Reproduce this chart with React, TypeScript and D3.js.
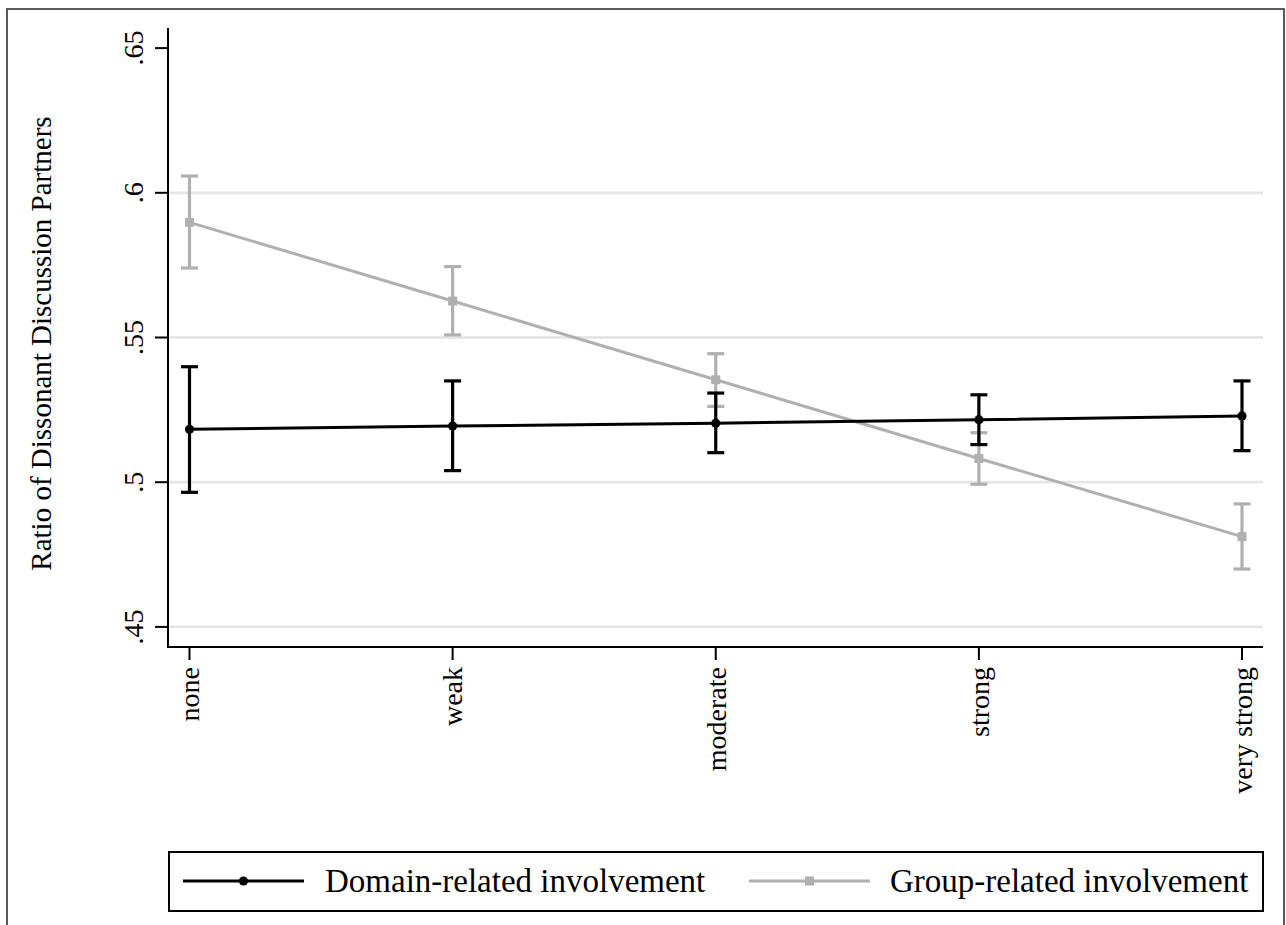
import React from "react";
import * as d3 from "d3";

const categories = ["none", "weak", "moderate", "strong", "very strong"];
const domainMean = [0.5183, 0.5194, 0.5204, 0.5216, 0.5229];
const domainLow = [0.4965, 0.504, 0.5102, 0.513, 0.5109];
const domainHigh = [0.5399, 0.535, 0.5308, 0.5302, 0.535];
const groupMean = [0.5898, 0.5626, 0.5354, 0.5082, 0.4812];
const groupLow = [0.574, 0.5509, 0.5262, 0.4993, 0.47];
const groupHigh = [0.6058, 0.5745, 0.5444, 0.5171, 0.4925];
const yTicks = [0.45, 0.5, 0.55, 0.6, 0.65];
const yTickLabels = [".45", ".5", ".55", ".6", ".65"];
const gridTicks = [0.45, 0.5, 0.55, 0.6];

const W = 1286;
const H = 925;
const FONT = '"Liberation Serif", "Times New Roman", serif';
const BLACK = "#000";
const GRAY = "#b0b0b0";

export default function App() {
  const plotLeft = 168;
  const plotRight = 1263;
  const plotTop = 28;
  const plotBottom = 647;

  const x = d3.scalePoint<string>().domain(categories).range([189.5, 1242]);
  const y = d3.scaleLinear().domain([0.45, 0.65]).range([626.9, 48.1]);

  const line = d3
    .line<number>()
    .x((_, i) => x(categories[i]) as number)
    .y((d) => y(d));

  const series = [
    { name: "Domain-related involvement", mean: domainMean, low: domainLow, high: domainHigh, color: BLACK, marker: "circle" },
    { name: "Group-related involvement", mean: groupMean, low: groupLow, high: groupHigh, color: GRAY, marker: "square" },
  ];

  const capHalf = 8.5;
  const ts = { fontFamily: FONT } as React.CSSProperties;

  return (
    <svg
      width={W}
      height={H}
      style={{ position: "absolute", left: 0, top: 0, background: "#fff", fontFamily: FONT }}
    >
      <rect x={0} y={0} width={W} height={H} fill="#fff" />
      <rect x={7} y={9} width={1277} height={940} fill="none" stroke="#333" strokeWidth={1.6} />

      {gridTicks.map((t) => (
        <line key={t} x1={plotLeft} x2={plotRight} y1={y(t)} y2={y(t)} stroke="#e6e6e6" strokeWidth={2.8} />
      ))}

      {[series[1], series[0]].map((s) => (
        <g key={s.name}>
          {s.mean.map((m, i) => {
            const cx = x(categories[i]) as number;
            return (
              <g key={i}>
                <line x1={cx} x2={cx} y1={y(s.low[i])} y2={y(s.high[i])} stroke={s.color} strokeWidth={3.2} />
                <line x1={cx - capHalf} x2={cx + capHalf} y1={y(s.low[i])} y2={y(s.low[i])} stroke={s.color} strokeWidth={3.2} />
                <line x1={cx - capHalf} x2={cx + capHalf} y1={y(s.high[i])} y2={y(s.high[i])} stroke={s.color} strokeWidth={3.2} />
              </g>
            );
          })}
        </g>
      ))}
      {[series[1], series[0]].map((s) => (
        <g key={s.name + "l"}>
          <path d={line(s.mean) || ""} fill="none" stroke={s.color} strokeWidth={3} />
          {s.mean.map((m, i) => {
            const cx = x(categories[i]) as number;
            return s.marker === "circle" ? (
              <circle key={i} cx={cx} cy={y(m)} r={4.6} fill={s.color} />
            ) : (
              <rect key={i} x={cx - 4.5} y={y(m) - 4.5} width={9} height={9} fill={s.color} />
            );
          })}
        </g>
      ))}

      <line x1={plotLeft} x2={plotLeft} y1={plotTop} y2={plotBottom + 1} stroke="#000" strokeWidth={2} />
      <line x1={plotLeft} x2={plotRight} y1={plotBottom} y2={plotBottom} stroke="#000" strokeWidth={2} />

      {yTicks.map((t, i) => (
        <g key={t}>
          <line x1={155} x2={plotLeft} y1={y(t)} y2={y(t)} stroke="#000" strokeWidth={2} />
          <text
            transform={`translate(143,${y(t)}) rotate(-90)`}
            textAnchor="middle"
            fontSize={28}
            fill="#000"
            style={ts}
          >
            {yTickLabels[i]}
          </text>
        </g>
      ))}

      {categories.map((c) => {
        const cx = x(c) as number;
        return (
          <g key={c}>
            <line x1={cx} x2={cx} y1={plotBottom} y2={660} stroke="#000" strokeWidth={2} />
            <text
              transform={`translate(${cx},667) rotate(-90)`}
              textAnchor="end"
              dy="0.35em"
              fontSize={28}
              fill="#000"
              style={ts}
            >
              {c}
            </text>
          </g>
        );
      })}

      <text transform={`translate(51,343.5) rotate(-90)`} textAnchor="middle" fontSize={29} fill="#000" style={ts}>
        Ratio of Dissonant Discussion Partners
      </text>

      <rect x={169} y={852} width={1094} height={59} fill="#fff" stroke="#000" strokeWidth={2} />
      <line x1={183} x2={304} y1={881} y2={881} stroke={BLACK} strokeWidth={3} />
      <circle cx={243.5} cy={881} r={4.6} fill={BLACK} />
      <text x={325} y={892} fontSize={33} fill="#000" style={ts}>
        {series[0].name}
      </text>
      <line x1={749} x2={870} y1={881} y2={881} stroke={GRAY} strokeWidth={3} />
      <rect x={805} y={876.5} width={9} height={9} fill={GRAY} />
      <text x={890} y={892} fontSize={33} fill="#000" style={ts}>
        {series[1].name}
      </text>
    </svg>
  );
}
